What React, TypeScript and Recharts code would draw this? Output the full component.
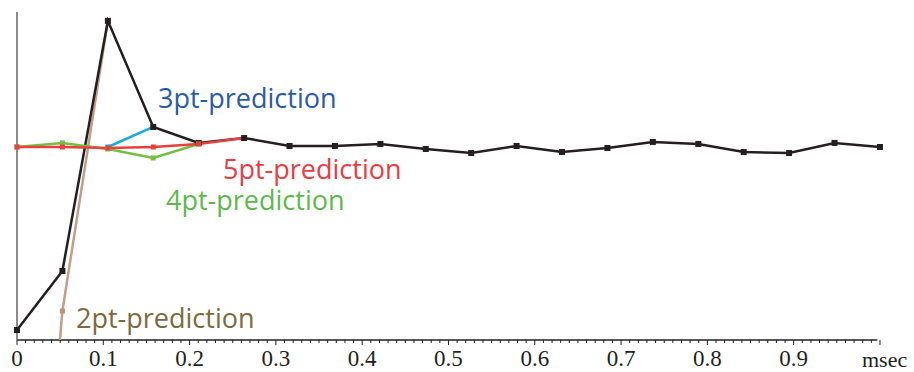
import React from 'react';
import { LineChart, Line, XAxis, YAxis, ReferenceLine } from 'recharts';

// sample times (msec)
const times = [0, 0.0526, 0.1053, 0.1579, 0.2105, 0.2632, 0.3158, 0.3684, 0.4211, 0.4737,
  0.5263, 0.5789, 0.6316, 0.6842, 0.7368, 0.7895, 0.8421, 0.8947, 0.9474, 1.0];

// measured signal (black)
const signal = [-1.451, -0.983, 1.0, 0.159, 0.032, 0.071, 0.008, 0.008, 0.024, -0.016,
  -0.048, 0.008, -0.04, -0.008, 0.04, 0.024, -0.04, -0.048, 0.032, 0];

// predictions
const pred2 = [-5.5, -1.3, 1.0];
const pred3 = [null, null, 0, 0.159];
const pred4 = [0, 0.032, -0.016, -0.087, 0.024];
const pred5 = [0, 0, -0.008, 0, 0.024, 0.071];

const majorTicks = [0, 0.1, 0.2, 0.3, 0.4, 0.5, 0.6, 0.7, 0.8, 0.9];
const minorTicks = Array.from({ length: 101 }, (_, i) => i / 100);

const Y_MIN = -1.53;
const Y_MAX = 1.07;

const data = times.map((t, i) => ({
  t,
  signal: signal[i],
  pred2: pred2[i] ?? null,
  pred3: pred3[i] ?? null,
  pred4: pred4[i] ?? null,
  pred5: pred5[i] ?? null,
}));

// square marker, optionally skipped at some indexes
const squareDot = (color: string, size: number, skip: number[] = []) => (props: any) => {
  const { cx, cy, index, value } = props;
  if (value == null || cx == null || cy == null || skip.includes(index)) return <g key={index} />;
  return <rect key={index} x={cx - size / 2} y={cy - size / 2} width={size} height={size} fill={color} />;
};

const AxisTick = (props: any) => {
  const { x, y, payload } = props;
  const v = Math.round(payload.value * 100) / 100;
  const major = majorTicks.includes(v) || v === 1;
  const showLabel = majorTicks.includes(v);
  return (
    <g>
      <line x1={x} x2={x} y1={y} y2={y + (major ? 5 : 3)} stroke="#231f20" strokeWidth={1} />
      {showLabel && (
        <text x={x} y={y + 26} textAnchor="middle" fontFamily="'Liberation Serif', serif" fontSize={23} fill="#231f20">
          {v === 0 ? '0' : String(v)}
        </text>
      )}
    </g>
  );
};

const labelFont = "'Open Sans', sans-serif";

export default function App() {
  return (
    <div style={{ position: 'absolute', left: 0, top: 0, width: 914, height: 372, background: '#fff' }}>
      <LineChart width={914} height={372} data={data} margin={{ top: 12, right: 28, bottom: 2, left: 7 }}>
        <XAxis
          dataKey="t"
          type="number"
          domain={[0, 1.007]}
          ticks={minorTicks}
          interval={0}
          tick={<AxisTick />}
          tickLine={false}
          tickSize={0}
          tickMargin={0}
          axisLine={false}
          height={30}
        />
        <YAxis
          type="number"
          domain={[Y_MIN, Y_MAX]}
          allowDataOverflow
          width={10}
          tick={false}
          tickLine={false}
          axisLine={{ stroke: '#666', strokeWidth: 1.5 }}
        />
        <ReferenceLine
          segment={[{ x: 0, y: Y_MIN }, { x: 0.997, y: Y_MIN }]}
          stroke="#231f20"
          strokeWidth={1.3}
        />
        <Line dataKey="pred2" stroke="#c09e88" strokeWidth={2.5} dot={squareDot('#b8937a', 5, [2])} isAnimationActive={false} />
        <Line dataKey="signal" stroke="#231f20" strokeWidth={2.5} dot={squareDot('#231f20', 6)} isAnimationActive={false} />
        <Line dataKey="pred3" stroke="#1ba9e0" strokeWidth={2.5} dot={squareDot('#1ba9e0', 5, [3])} isAnimationActive={false} />
        <Line dataKey="pred4" stroke="#72bf44" strokeWidth={2.5} dot={squareDot('#72bf44', 5)} isAnimationActive={false} />
        <Line dataKey="pred5" stroke="#e8403a" strokeWidth={2.5} dot={squareDot('#e8403a', 5, [5])} isAnimationActive={false} />
      </LineChart>
      <svg width={914} height={372} style={{ position: 'absolute', left: 0, top: 0, pointerEvents: 'none' }}>
        <text x={158} y={108} fontFamily={labelFont} fontSize={27} fill="#2b5aa8">3pt-prediction</text>
        <text x={223} y={179} fontFamily={labelFont} fontSize={27} fill="#ee3a43">5pt-prediction</text>
        <text x={166} y={210} fontFamily={labelFont} fontSize={27} fill="#5db94b">4pt-prediction</text>
        <text x={76} y={328} fontFamily={labelFont} fontSize={27} fill="#7b6a3e">2pt-prediction</text>
        <text x={862} y={367} fontFamily="'Liberation Serif', serif" fontSize={22} fill="#231f20">msec</text>
      </svg>
    </div>
  );
}
